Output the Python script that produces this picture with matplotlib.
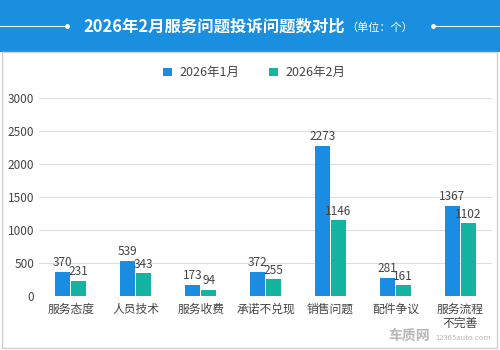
import matplotlib.pyplot as plt
import numpy as np
from matplotlib.patches import Rectangle

plt.rcParams['font.family'] = ['Noto Sans CJK SC', 'DejaVu Sans']

categories = ['服务态度', '人员技术', '服务收费', '承诺不兑现', '销售问题', '配件争议', '服务流程\n不完善']
jan = [370, 539, 173, 372, 2273, 281, 1367]
feb = [231, 343, 94, 255, 1146, 161, 1102]
series_names = ['2026年1月', '2026年2月']
blue = '#1a8de3'
teal = '#15b3a1'

fig = plt.figure(figsize=(5, 3.5), dpi=100)

# header band
fig.patches.append(Rectangle((0, 0.851), 1, 0.149, transform=fig.transFigure,
                             facecolor='#1a8fe0', edgecolor='none', zorder=-2))
# white panel border
fig.patches.append(Rectangle((0.004, 0.006), 0.99, 0.845, transform=fig.transFigure,
                             facecolor='none', edgecolor='#d0d0d0', lw=1, zorder=-2))
fig.text(0.69, 0.925, '2026年2月服务问题投诉问题数对比', color='white', fontsize=11.8,
         fontweight='bold', ha='right', va='center')
fig.text(0.693, 0.922, '（单位：个）', color='white', fontsize=8, ha='left', va='center')
fig.lines.append(plt.Line2D([0, 0.13], [0.925, 0.925], transform=fig.transFigure, color='white', lw=0.8))
fig.lines.append(plt.Line2D([0.87, 1], [0.925, 0.925], transform=fig.transFigure, color='white', lw=0.8))
fig.lines.append(plt.Line2D([0.134], [0.925], transform=fig.transFigure, color='white', marker='o', ms=2.5))
fig.lines.append(plt.Line2D([0.866], [0.925], transform=fig.transFigure, color='white', marker='o', ms=2.5))

ax = fig.add_axes([0.078, 0.154, 0.906, 0.566])
ax.patch.set_alpha(0)
x = np.arange(len(categories))
w = 0.23
b1 = ax.bar(x - w / 2 - 0.008, jan, w, color=blue, label=series_names[0], zorder=3)
b2 = ax.bar(x + w / 2 + 0.008, feb, w, color=teal, label=series_names[1], zorder=3)
for bars, vals in ((b1, jan), (b2, feb)):
    for r, v in zip(bars, vals):
        ax.text(r.get_x() + r.get_width() / 2, v + 40, str(v), ha='center', va='bottom',
                fontsize=8.5, color='#444444', zorder=4)

ax.set_ylim(0, 3000)
ax.set_xlim(-0.49, len(categories) - 0.51)
ax.set_yticks([0, 500, 1000, 1500, 2000, 2500, 3000])
ax.set_xticks(x)
ax.set_xticklabels(categories, fontsize=8.5, color='#444444', linespacing=1.1)
ax.tick_params(axis='y', labelsize=8.5, colors='#444444', length=0)
ax.tick_params(axis='x', length=0, pad=5)
ax.grid(axis='y', color='#dddddd', lw=0.8, zorder=0)
for s in ax.spines.values():
    s.set_visible(False)

fig.legend(handles=[b1, b2], labels=series_names, loc='center', bbox_to_anchor=(0.508, 0.792),
           ncol=2, frameon=False, fontsize=9, handlelength=0.7, handleheight=0.7,
           columnspacing=2.4, handletextpad=0.6, labelcolor='#444444')

fig.text(0.86, 0.04, '车质网', color='#b8b8b8', fontsize=10, fontweight='bold', ha='right', va='center')
fig.text(0.87, 0.035, '12365auto.com', color='#b8b8b8', fontsize=5.5, ha='left', va='center')

fig.savefig('out.png', dpi=100)
